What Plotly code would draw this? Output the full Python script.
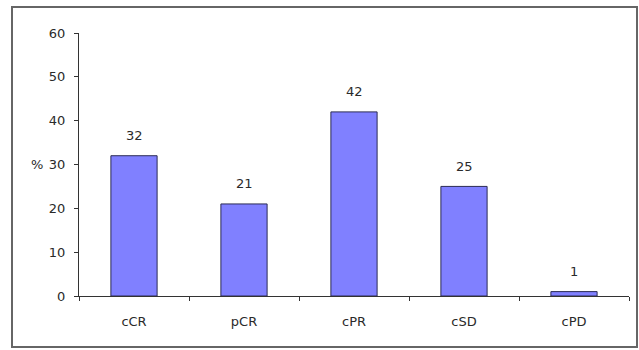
import plotly.graph_objects as go

categories = ["cCR", "pCR", "cPR", "cSD", "cPD"]
percent = [32, 21, 42, 25, 1]
y_ticks = [0, 10, 20, 30, 40, 50, 60]

W, H = 639, 350
L, R, T, B = 79, 10, 33, 54
pw, ph = W - L - R, H - T - B

font = dict(family="DejaVu Sans, Arial, sans-serif", size=13, color="#2a2a2a")

fig = go.Figure(
    go.Bar(
        x=categories,
        y=percent,
        width=0.42,
        marker=dict(color="#8080ff", line=dict(color="#2b2b55", width=1)),
        hoverinfo="x+y",
    )
)

# value labels above each bar
for c, v in zip(categories, percent):
    fig.add_annotation(x=c, y=v, text=str(v), showarrow=False, yshift=20,
                       font=font)

# axis title placed beside the 30 tick
fig.add_annotation(xref="paper", yref="y", x=(45 - L) / pw, y=30, text="%",
                   xanchor="right", showarrow=False, font=font)

# outer frame around the whole chart
fig.add_shape(type="rect", xref="paper", yref="paper",
              x0=(12 - L) / pw, x1=(637 - L) / pw,
              y0=(H - B - 347) / ph, y1=(H - B - 7) / ph,
              line=dict(color="#666666", width=2), layer="below")

fig.update_layout(
    width=W, height=H,
    margin=dict(l=L, r=R, t=T, b=B),
    paper_bgcolor="white", plot_bgcolor="white",
    showlegend=False,
    font=font,
)
fig.update_xaxes(
    showline=True, linecolor="#333333", linewidth=1,
    ticks="outside", ticklen=4, tickcolor="#333333", tickson="boundaries",
    ticklabelstandoff=13, showgrid=False, zeroline=False,
)
fig.update_yaxes(
    range=[0, 60], tickvals=y_ticks,
    showline=True, linecolor="#333333", linewidth=1,
    ticks="outside", ticklen=4, tickcolor="#333333",
    showgrid=False, zeroline=False, ticklabelstandoff=6,
)

fig.write_html("out.html")
